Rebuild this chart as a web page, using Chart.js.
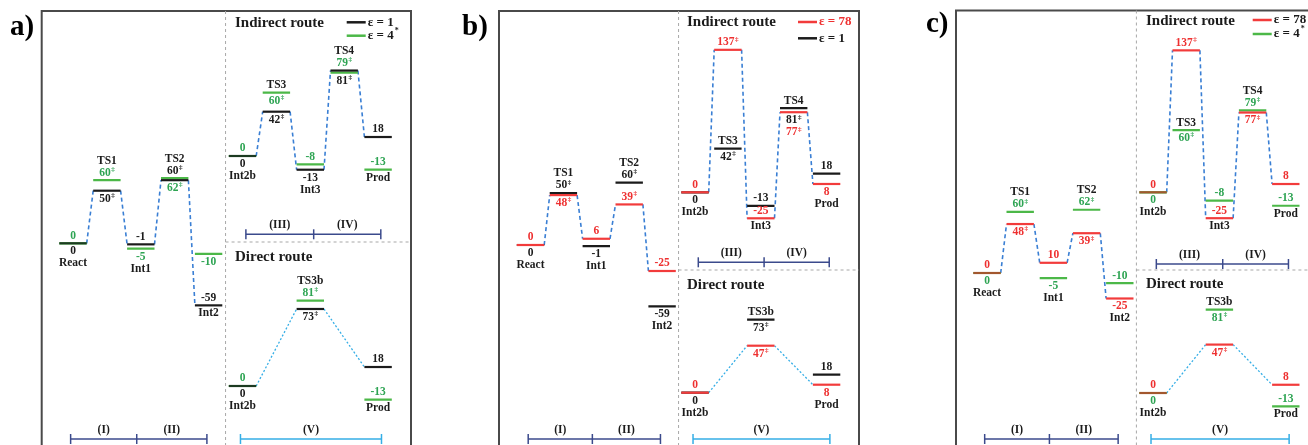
<!DOCTYPE html>
<html>
<head>
<meta charset="utf-8">
<script src="https://cdn.jsdelivr.net/npm/chart.js@4.4.1/dist/chart.umd.min.js"></script>
<style>
  html, body { margin: 0; padding: 0; background: #fff; overflow: hidden; }
  #wrap { position: relative; width: 1308px; height: 445px; }
  #wrap canvas { position: absolute; left: 0; top: 0; }
</style>
</head>
<body>
<div id="wrap">
  <canvas id="panelA" width="1308" height="445"></canvas>
  <canvas id="panelB" width="1308" height="445"></canvas>
  <canvas id="panelC" width="1308" height="445"></canvas>
</div>
<script>
// states along each part of the path
const leftStates = ['React', 'TS1', 'Int1', 'TS2', 'Int2'];
const indirectStates = ['Int2b', 'TS3', 'Int3', 'TS4', 'Prod'];
const directStates = ['Int2b', 'TS3b', 'Prod'];

// relative energies (kcal/mol) for each dielectric constant
const eps1Left = [0, 50, -1, 60, -59];
const eps1Indirect = [0, 42, -13, 81, 18];
const eps1Direct = [0, 73, 18];

const eps4Left = [0, 60, -5, 62, -10];
const eps4Indirect = [0, 60, -8, 79, -13];
const eps4Direct = [0, 81, -13];

const eps78LeftB = [0, 48, 6, 39, -25];
const eps78LeftC = [0, 48, 10, 39, -25];
const eps78Indirect = [0, 137, -25, 77, 8];
const eps78Direct = [0, 47, 8];

// x slot of every state (shared by the three panels)
const slotsLeft = [0, 1, 2, 3, 4];
const slotsIndirect = [5, 6, 7, 8, 9];
const slotsDirect = [5, 7, 9];

const W = 1308, H = 445;
const BLACK = '#1b1b1b', GREEN = '#4cb848', GREEN_TXT = '#2ea453';
const RED = '#f23b3b', RED_TXT = '#ee3030';
const NAVY = '#3b4a8c', SKY = '#35aee6', ROUTE = '#3a7fd4';
const SERIF = '"Liberation Serif", "Times New Roman", serif';
const LBL = 'bold 11.5px ' + SERIF;
const SUP = 'bold 7px ' + SERIF;

// label placement per state: "<series0 side> <series1 side> <name side+series>"
const panels = [
  {
    canvas: 'panelA', letter: 'a)', c0: 73, pitch: 33.9,
    series: [
      {name: 'ε = 1', line: BLACK, text: BLACK, legendText: BLACK},
      {name: 'ε = 4', sup: '*', line: GREEN, text: GREEN_TXT, legendText: BLACK}
    ],
    overlap: '#1c3a21',
    frame: {left: 41.7, top: 11, right: 411}, hSep: 242,
    title: {x: 235, y: 23, directY: 256.7}, letterPos: {x: 10, y: 28},
    legend: {x: 346.7, y: [22.3, 35.7]},
    bracketY: {low: 439, mid: 234.3},
    regions: [
      {axis: 'yL', y0: 243.3, k: 1.052, names: leftStates, slots: slotsLeft, vals: [eps1Left, eps4Left],
        place: ['d u d1', 'd u u2', 'u d d2', 'u d u1', 'u d d1']},
      {axis: 'yU', y0: 156, k: 1.055, names: indirectStates, slots: slotsIndirect, vals: [eps1Indirect, eps4Indirect],
        place: ['d u d1', 'd d u2', 'd u d1', 'd u u2', 'u u d2']},
      {axis: 'yD', y0: 386, k: 1.055, names: directStates, slots: slotsDirect, vals: [eps1Direct, eps4Direct], direct: true,
        place: ['d u d1', 'd u u2', 'u u d2']}
    ]
  },
  {
    canvas: 'panelB', letter: 'b)', c0: 530.5, pitch: 32.9,
    series: [
      {name: 'ε = 78', line: RED, text: RED_TXT, legendText: RED_TXT},
      {name: 'ε = 1', line: BLACK, text: BLACK, legendText: BLACK}
    ],
    overlap: RED,
    frame: {left: 499, top: 11, right: 859}, hSep: 270,
    title: {x: 687, y: 22, directY: 285}, letterPos: {x: 462, y: 28},
    legend: {x: 798, y: [22, 38.3]},
    bracketY: {low: 439, mid: 262.3},
    regions: [
      {axis: 'yL', y0: 245, k: 1.04, names: leftStates, slots: slotsLeft, vals: [eps78LeftB, eps1Left],
        place: ['u d d2', 'd u u2', 'u d d2', 'u u u2', 'u d d2']},
      {axis: 'yU', y0: 192.3, k: 1.04, names: indirectStates, slots: slotsIndirect, vals: [eps78Indirect, eps1Indirect],
        place: ['u d d2', 'u d u2', 'u u d1', 'd d u2', 'd u d1']},
      {axis: 'yD', y0: 392.7, k: 1.0, names: directStates, slots: slotsDirect, vals: [eps78Direct, eps1Direct], direct: true,
        place: ['u d d2', 'd d u2', 'd u d1']}
    ]
  },
  {
    canvas: 'panelC', letter: 'c)', c0: 987, pitch: 33.2,
    series: [
      {name: 'ε = 78', line: RED, text: RED_TXT, legendText: BLACK},
      {name: 'ε = 4', sup: '*', line: GREEN, text: GREEN_TXT, legendText: BLACK}
    ],
    overlap: '#a2572e',
    frame: {left: 956, top: 10.5, right: 1330}, hSep: 270,
    title: {x: 1146, y: 20.7, directY: 284}, letterPos: {x: 926, y: 25},
    legend: {x: 1252.7, y: [20, 34]},
    bracketY: {low: 439, mid: 264},
    regions: [
      {axis: 'yL', y0: 273, k: 1.02, names: leftStates, slots: slotsLeft, vals: [eps78LeftC, eps4Left],
        place: ['u d d2', 'd u u2', 'u d d2', 'd u u2', 'd u d1']},
      {axis: 'yU', y0: 192.3, k: 1.036, names: indirectStates, slots: slotsIndirect, vals: [eps78Indirect, eps4Indirect],
        place: ['u d d2', 'u d u2', 'u u d1', 'd u u2', 'u u d2']},
      {axis: 'yD', y0: 393, k: 1.03, names: directStates, slots: slotsDirect, vals: [eps78Direct, eps4Direct], direct: true,
        place: ['u d d2', 'd d u2', 'u u d2']}
    ]
  }
];

function levelData(slots, vals, hw) {
  const d = [];
  slots.forEach((s, i) => {
    d.push({x: s - hw, y: vals[i]}, {x: s + hw, y: vals[i]}, {x: s + hw, y: null});
  });
  return d;
}

function routeData(slots, vals, hw) {
  const d = [];
  slots.forEach((s, i) => d.push({x: s - hw, y: vals[i]}, {x: s + hw, y: vals[i]}));
  return d;
}

function seg(ctx, x1, y1, x2, y2) {
  ctx.beginPath();
  ctx.moveTo(x1, y1);
  ctx.lineTo(x2, y2);
  ctx.stroke();
}

function drawText(ctx, s, x, y, font, color, align) {
  ctx.font = font;
  ctx.fillStyle = color;
  ctx.textAlign = align || 'center';
  ctx.textBaseline = 'middle';
  ctx.fillText(s, x, y);
}

function drawValue(ctx, v, ts, x, y, color) {
  const main = String(v);
  ctx.font = LBL;
  const w1 = ctx.measureText(main).width;
  let w2 = 0;
  if (ts) {
    ctx.font = SUP;
    w2 = ctx.measureText('‡').width + 0.5;
  }
  const x0 = x - (w1 + w2) / 2;
  drawText(ctx, main, x0, y, LBL, color, 'left');
  if (ts) drawText(ctx, '‡', x0 + w1 + 0.5, y - 3.5, SUP, color, 'left');
}

function drawRegionLabels(chart, p, r) {
  const ctx = chart.ctx, xs = chart.scales.x, ys = chart.scales[r.axis];
  r.names.forEach((name, i) => {
    const xc = xs.getPixelForValue(r.slots[i]);
    const code = r.place[i].split(' ');
    const ly = [0, 1].map(k => ys.getPixelForValue(r.vals[k][i]));
    const close = Math.abs(ly[0] - ly[1]) < 9;
    const stacks = {};
    const getStack = (k, side) => {
      const key = (close ? 'c' : 'k' + k) + side;
      if (!stacks[key]) {
        const ref = close ? (side === 'u' ? Math.min(...ly) : Math.max(...ly)) : ly[k];
        stacks[key] = {side, ref, items: []};
      }
      return stacks[key];
    };
    [0, 1].forEach(k => getStack(k, code[k]).items.push({k, y: ly[k]}));
    Object.values(stacks).forEach(st => st.items.sort((a, b) => st.side === 'u' ? b.y - a.y : a.y - b.y));
    getStack(+code[2][1] - 1, code[2][0]).items.push({name: true});
    Object.values(stacks).forEach(st => {
      st.items.forEach((it, j) => {
        const cy = st.side === 'u' ? st.ref - 7.5 - 12 * j : st.ref + 8 + 12 * j;
        if (it.name) drawText(ctx, name, xc, cy, LBL, BLACK);
        else drawValue(ctx, r.vals[it.k][i], name.startsWith('TS'), xc, cy, p.series[it.k].text);
      });
    });
  });
}

function drawBracket(ctx, xs, y, color, labels) {
  ctx.strokeStyle = color;
  ctx.lineWidth = 1.5;
  seg(ctx, xs[0], y, xs[xs.length - 1], y);
  xs.forEach(x => seg(ctx, x, y - 5, x, y + 5));
  labels.forEach((l, i) => drawText(ctx, l, (xs[i] + xs[i + 1]) / 2, y - 9, LBL, BLACK));
}

function decoPlugin(p) {
  return {
    id: 'deco' + p.canvas,
    beforeDatasetsDraw(chart) {
      const ctx = chart.ctx, f = p.frame;
      const vx = chart.scales.x.getPixelForValue(4.5);
      ctx.save();
      ctx.strokeStyle = '#4a4a4a';
      ctx.lineWidth = 2;
      ctx.strokeRect(f.left, f.top, f.right - f.left, H + 20 - f.top);
      ctx.setLineDash([3, 3]);
      ctx.strokeStyle = '#a8a8a8';
      ctx.lineWidth = 1;
      seg(ctx, vx, f.top, vx, H);
      seg(ctx, vx, p.hSep, f.right, p.hSep);
      ctx.restore();
    },
    afterDatasetsDraw(chart) {
      const ctx = chart.ctx, xs = chart.scales.x;
      ctx.save();
      p.regions.forEach(r => drawRegionLabels(chart, p, r));
      const px = s => xs.getPixelForValue(s);
      drawBracket(ctx, [px(-0.07), px(1.88), px(3.95)], p.bracketY.low, NAVY, ['(I)', '(II)']);
      drawBracket(ctx, [px(5.1), px(7.1), px(9.08)], p.bracketY.mid, NAVY, ['(III)', '(IV)']);
      drawBracket(ctx, [px(4.94), px(9.1)], p.bracketY.low, SKY, ['(V)']);
      const tf = 'bold 15px ' + SERIF;
      drawText(ctx, 'Indirect route', p.title.x, p.title.y, tf, BLACK, 'left');
      drawText(ctx, 'Direct route', p.title.x, p.title.directY, tf, BLACK, 'left');
      drawText(ctx, p.letter, p.letterPos.x, p.letterPos.y, 'bold 29px ' + SERIF, '#000', 'left');
      const lf = 'bold 13px ' + SERIF;
      p.series.forEach((s, k) => {
        const y = p.legend.y[k];
        ctx.strokeStyle = s.line;
        ctx.lineWidth = 2.5;
        seg(ctx, p.legend.x, y, p.legend.x + 19, y);
        drawText(ctx, s.name, p.legend.x + 21, y, lf, s.legendText, 'left');
        if (s.sup) {
          ctx.font = lf;
          const w = ctx.measureText(s.name).width;
          drawText(ctx, s.sup, p.legend.x + 22 + w, y - 5, 'bold 8px ' + SERIF, s.legendText, 'left');
        }
      });
      ctx.restore();
    }
  };
}

panels.forEach(p => {
  const hw = 13.7 / p.pitch;
  const datasets = [];
  const scales = {
    x: {type: 'linear', display: false, bounds: 'data', min: -p.c0 / p.pitch, max: (W - p.c0) / p.pitch}
  };
  p.regions.forEach(r => {
    scales[r.axis] = {type: 'linear', axis: 'y', display: false, bounds: 'data', min: (r.y0 - H) / r.k, max: r.y0 / r.k};
    const routeColor = r.direct ? SKY : ROUTE;
    datasets.push({
      data: routeData(r.slots, r.vals[0], hw),
      yAxisID: r.axis,
      order: 3,
      borderWidth: r.direct ? 1.3 : 1.6,
      borderDash: r.direct ? [2, 2] : [4, 3],
      borderColor: routeColor,
      segment: {borderColor: c => c.p0DataIndex % 2 ? routeColor : 'rgba(0,0,0,0)'}
    });
    [1, 0].forEach(k => {
      const s = p.series[k];
      const ds = {
        data: levelData(r.slots, r.vals[k], hw),
        yAxisID: r.axis,
        order: k === 0 ? 1 : 2,
        borderWidth: 2.2,
        borderColor: s.line
      };
      if (k === 0) {
        ds.segment = {
          borderColor: c => {
            const i = Math.floor(c.p0DataIndex / 3);
            return r.vals[0][i] === r.vals[1][i] ? p.overlap : s.line;
          }
        };
      }
      datasets.push(ds);
    });
  });

  new Chart(document.getElementById(p.canvas), {
    type: 'line',
    data: {datasets},
    options: {
      responsive: false,
      animation: false,
      layout: {padding: 0},
      elements: {point: {radius: 0, hoverRadius: 0}, line: {tension: 0, fill: false}},
      scales,
      plugins: {legend: {display: false}, tooltip: {enabled: false}, title: {display: false}}
    },
    plugins: [decoPlugin(p)]
  });
});
</script>
</body>
</html>
